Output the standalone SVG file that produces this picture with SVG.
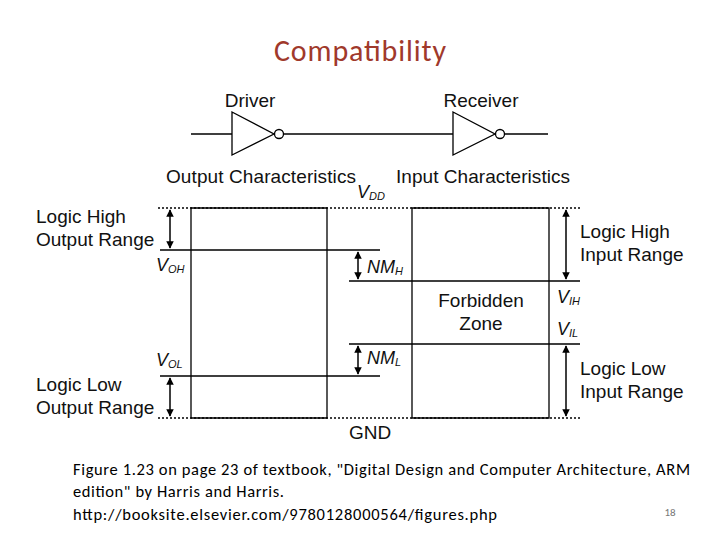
<svg xmlns="http://www.w3.org/2000/svg" width="720" height="540" viewBox="0 0 720 540">
<defs>
<marker id="a" viewBox="0 0 10 10" refX="9" refY="5" markerWidth="5" markerHeight="5" orient="auto-start-reverse"><path d="M0,0 L10,5 L0,10 z" fill="#000"/></marker>
<style>
.l{stroke:#000;stroke-width:1.3;fill:none}
.t{font-family:"Liberation Sans",Arial,sans-serif;font-size:19px;fill:#111}
.i{font-family:"Liberation Sans",Arial,sans-serif;font-size:18px;font-style:italic;fill:#111}
.s{font-size:11px}
.c{font-family:Carlito,"Liberation Sans",sans-serif;font-size:16.5px;fill:#000}
.ar{stroke:#000;stroke-width:1.5;marker-start:url(#a);marker-end:url(#a)}
</style>
</defs>
<rect width="720" height="540" fill="#fff"/>
<text x="360" y="61" text-anchor="middle" font-family="Carlito,'Liberation Sans',sans-serif" font-size="30" fill="#a0392b" textLength="172">Compatibility</text>
<g id="driver">
<text class="t" x="250" y="107" text-anchor="middle">Driver</text>
<path class="l" d="M191,134 H232 M232,112 L274,134 L232,155 Z"/>
<circle class="l" cx="279" cy="134" r="4.5"/>
</g>
<g id="receiver">
<text class="t" x="481" y="107" text-anchor="middle">Receiver</text>
<path class="l" d="M453,112 L495,134 L453,155 Z M505,134 H548"/>
<circle class="l" cx="500" cy="134" r="4.5"/>
</g>
<g id="connectors">
<path class="l" d="M284,134 H453"/>
<path class="l" stroke-dasharray="2,2" d="M158,208 H580 M158,418 H580"/>
<path class="l" stroke-width="2" d="M191,208 V418 H327 V208 Z M412,208 V418 H549 V208 Z"/>
<path class="l" stroke-width="1.6" d="M160,250 H380 M160,376 H380"/>
<path class="l" d="M349,281 H580 M349,344 H580"/>
<line class="ar" x1="170" y1="210" x2="170" y2="248"/>
<line class="ar" x1="170" y1="378" x2="170" y2="416"/>
<line class="ar" x1="358" y1="252" x2="358" y2="279"/>
<line class="ar" x1="358" y1="346" x2="358" y2="374"/>
<line class="ar" x1="566" y1="210" x2="566" y2="279"/>
<line class="ar" x1="566" y1="346" x2="566" y2="416"/>
</g>
<g id="labels">
<text class="t" x="166" y="183" textLength="190">Output Characteristics</text>
<text class="t" x="396" y="183" textLength="174">Input Characteristics</text>
<text class="i" x="357" y="198">V<tspan class="s" dy="2">DD</tspan></text>
<text class="t" x="36" y="223">Logic High</text>
<text class="t" x="36" y="246">Output Range</text>
<text class="i" x="156" y="271">V<tspan class="s" dy="2">OH</tspan></text>
<text class="i" x="367" y="273">NM<tspan class="s" dy="2">H</tspan></text>
<text class="t" x="580" y="238">Logic High</text>
<text class="t" x="580" y="261">Input Range</text>
<text class="t" x="481" y="307" text-anchor="middle">Forbidden</text>
<text class="t" x="481" y="330" text-anchor="middle">Zone</text>
<text class="i" x="557" y="303">V<tspan class="s" dy="2">IH</tspan></text>
<text class="i" x="557" y="335">V<tspan class="s" dy="2">IL</tspan></text>
<text class="i" x="156" y="366">V<tspan class="s" dy="2">OL</tspan></text>
<text class="i" x="367" y="364">NM<tspan class="s" dy="2">L</tspan></text>
<text class="t" x="36" y="391">Logic Low</text>
<text class="t" x="36" y="414">Output Range</text>
<text class="t" x="580" y="375">Logic  Low</text>
<text class="t" x="580" y="398">Input Range</text>
<text class="t" x="370" y="439" text-anchor="middle">GND</text>
</g>
<text class="c" x="73" y="475" textLength="617">Figure 1.23 on page 23 of textbook, "Digital Design and Computer Architecture, ARM</text>
<text class="c" x="73" y="497" textLength="211">edition" by Harris and Harris.</text>
<text class="c" x="73" y="520" textLength="424">http://booksite.elsevier.com/9780128000564/figures.php</text>
<text x="670" y="516" text-anchor="middle" font-family="Carlito,'Liberation Sans',sans-serif" font-size="11" fill="#777">18</text>
</svg>
